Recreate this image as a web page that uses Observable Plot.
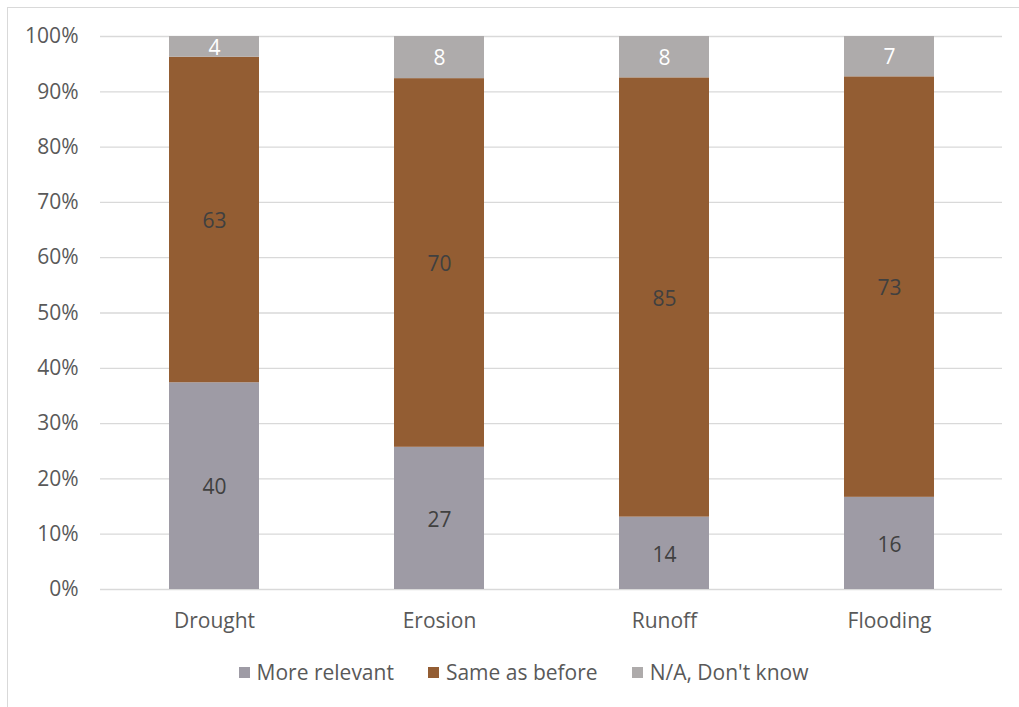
<!DOCTYPE html>
<html>
<head>
<meta charset="utf-8">
<script src="https://cdn.jsdelivr.net/npm/d3@7"></script>
<script src="https://cdn.jsdelivr.net/npm/@observablehq/plot@0.6"></script>
<style>
  html, body { margin: 0; padding: 0; background: #fff; overflow: hidden; }
  #wrap { position: relative; width: 1019px; height: 707px; overflow: hidden; font-family: "Open Sans", sans-serif; }
  #frame { position: absolute; left: 7px; top: 7px; width: 1100px; height: 800px; border: 1px solid #d9d9d9; box-sizing: border-box; }
  #chart { position: absolute; left: 0; top: 0; }
  #legend { position: absolute; left: 0; top: 658px; width: 1047px; display: flex; justify-content: center; gap: 34px; font-size: 21px; color: #595959; }
  .item { display: flex; align-items: center; gap: 7px; }
  .sw { width: 11px; height: 11px; display: inline-block; }
</style>
</head>
<body>
<div id="wrap">
  <div id="frame"></div>
  <div id="chart"></div>
  <div id="legend"></div>
</div>
<script>
// Survey responses per hazard, shown as shares of each hazard's total
const categories = ["Drought", "Erosion", "Runoff", "Flooding"];
const seriesNames = ["More relevant", "Same as before", "N/A, Don't know"];
const moreRelevant = [40, 27, 14, 16];
const sameAsBefore = [63, 70, 85, 73];
const dontKnow = [4, 8, 8, 7];
const seriesColors = ["#9e9ba5", "#935d33", "#aeabab"];
const yTicks = [0, 0.1, 0.2, 0.3, 0.4, 0.5, 0.6, 0.7, 0.8, 0.9, 1];

const seriesValues = [moreRelevant, sameAsBefore, dontKnow];
const data = categories.flatMap((category, i) =>
  seriesNames.map((series, s) => ({category, series, value: seriesValues[s][i]}))
);

const stackOpts = {offset: "normalize", x: "category", y: "value", z: "series"};
const font = "Open Sans, sans-serif";

const chart = Plot.plot({
  width: 1019,
  height: 640,
  marginLeft: 100,
  marginRight: 17,
  marginTop: 36,
  marginBottom: 51,
  style: {fontFamily: font, fontSize: "21px", color: "#595959", background: "transparent"},
  x: {domain: categories, paddingInner: 0.6, paddingOuter: 0.3},
  y: {domain: [0, 1]},
  color: {domain: seriesNames, range: seriesColors},
  marks: [
    Plot.gridY(yTicks, {stroke: "#d9d9d9", strokeOpacity: 1, strokeWidth: 1.3}),
    Plot.barY(data, Plot.stackY({...stackOpts, fill: "series"})),
    Plot.text(data, Plot.filter(d => d.series !== seriesNames[2],
      Plot.stackY({...stackOpts, text: "value", fill: "#404040", fontSize: 21, dy: 1.5}))),
    Plot.text(data, Plot.filter(d => d.series === seriesNames[2],
      Plot.stackY({...stackOpts, text: "value", fill: "#ffffff", fontSize: 21, dy: 1}))),
    Plot.axisY(yTicks, {tickSize: 0, tickPadding: 22, tickFormat: d3.format(".0%"), fill: "#595959", fontSize: 21, label: null}),
    Plot.axisX({tickSize: 0, tickPadding: 24, fill: "#595959", fontSize: 21, label: null})
  ]
});
document.getElementById("chart").appendChild(chart);

const legend = document.getElementById("legend");
seriesNames.forEach((name, i) => {
  const item = document.createElement("div");
  item.className = "item";
  const sw = document.createElement("span");
  sw.className = "sw";
  sw.style.background = seriesColors[i];
  const label = document.createElement("span");
  label.textContent = name;
  item.appendChild(sw);
  item.appendChild(label);
  legend.appendChild(item);
});
</script>
</body>
</html>
